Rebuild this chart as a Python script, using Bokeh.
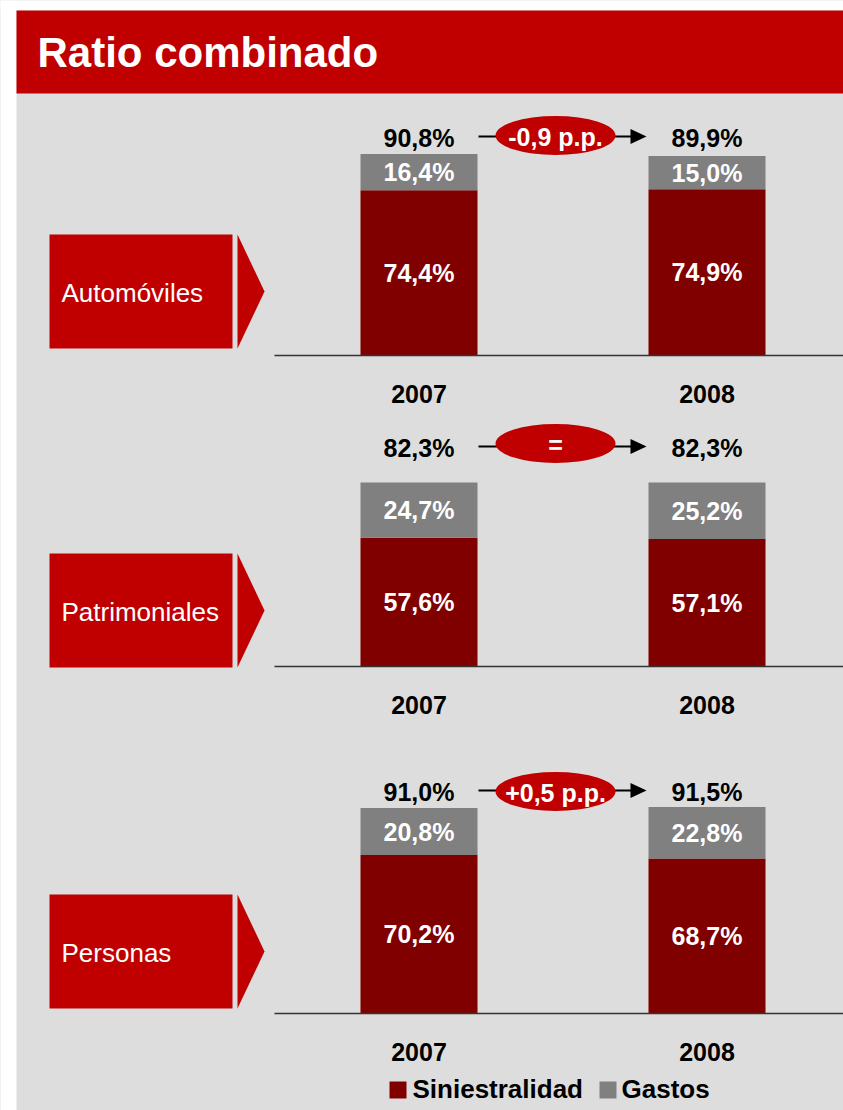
from bokeh.plotting import figure
from bokeh.models import Range1d
from bokeh.core.properties import value
from bokeh.embed import file_html
from bokeh.resources import INLINE

# ---------------- data ----------------
title = "Ratio combinado"
segments = ["Automóviles", "Patrimoniales", "Personas"]
years = ["2007", "2008"]
siniestralidad = [[74.4, 74.9], [57.6, 57.1], [70.2, 68.7]]
gastos = [[16.4, 15.0], [24.7, 25.2], [20.8, 22.8]]
totals = [[90.8, 89.9], [82.3, 82.3], [91.0, 91.5]]
changes = ["-0,9 p.p.", "=", "+0,5 p.p."]
series = ["Siniestralidad", "Gastos"]

# ---------------- style / layout ----------------
RED = "#C00000"
DARK = "#800000"
GRAY = "#808080"
BG = "#DDDDDD"
FONT = value("Liberation Sans")

W, H = 843, 1110
X0, Y0 = 0, 0
BAR_X = [418.5, 706.5]
BAR_W = 117
BASE = [355, 666, 1013]          # picture y of each panel's baseline
SCALE = [2.22, 2.235, 2.257]     # px per percentage point
BOX_CY = [291, 610, 951]
ROW_Y = [136, 446, 790]
ELL_Y = [135, 443, 791]


def fmt(v):
    return f"{v:.1f}".replace(".", ",") + "%"


p = figure(width=W, height=H, x_range=Range1d(X0, X0 + W), y_range=Range1d(Y0 + H, Y0),
           output_backend="svg", toolbar_location=None, x_axis_type=None, y_axis_type=None,
           min_border=0, outline_line_color=None, background_fill_color=BG,
           border_fill_color="white")

ranges = {}
for k, (b, s) in enumerate(zip(BASE, SCALE)):
    ranges[f"p{k}"] = Range1d(start=(b - (Y0 + H)) / s, end=(b - Y0) / s)
p.extra_y_ranges = ranges

# white margins and header
p.quad(left=[X0, X0], right=[16, X0 + W], top=[Y0, Y0], bottom=[Y0 + H, 10],
       fill_color="white", line_color=None)
p.quad(left=16, right=X0 + W, top=10, bottom=93, fill_color=RED, line_color=None)
p.text(x=[37], y=[52], text=[title], text_color="white", text_font=FONT,
       text_font_size="42px", text_font_style="bold", text_baseline="middle")

for k, seg in enumerate(segments):
    rn = f"p{k}"
    cy = BOX_CY[k]
    # label box + chevron
    p.quad(left=49, right=232, top=cy - 57, bottom=cy + 57, fill_color=RED, line_color=None)
    p.patch(x=[237, 264, 237], y=[cy - 57, cy, cy + 57], fill_color=RED, line_color=None)
    p.text(x=[61], y=[cy + 1], text=[seg], text_color="white", text_font=FONT,
           text_font_size="26px", text_baseline="middle")

    sin = siniestralidad[k]
    gas = gastos[k]
    tot = [a + g for a, g in zip(sin, gas)]
    p.vbar(x=BAR_X, width=BAR_W, bottom=0, top=sin, fill_color=DARK, line_color=None,
           y_range_name=rn)
    p.vbar(x=BAR_X, width=BAR_W, bottom=sin, top=tot, fill_color=GRAY, line_color=None,
           y_range_name=rn)
    p.text(x=BAR_X, y=[v / 2 for v in sin], text=[fmt(v) for v in sin], text_color="white",
           text_font=FONT, text_font_size="25px", text_font_style="bold",
           text_align="center", text_baseline="middle", y_range_name=rn)
    p.text(x=BAR_X, y=[a + g / 2 for a, g in zip(sin, gas)], text=[fmt(v) for v in gas],
           text_color="white", text_font=FONT, text_font_size="25px", text_font_style="bold",
           text_align="center", text_baseline="middle", y_range_name=rn)

    # baseline
    p.segment(x0=274, x1=X0 + W, y0=BASE[k], y1=BASE[k], line_color="#333333", line_width=1.5)

    # totals
    p.text(x=BAR_X, y=[ROW_Y[k] + 1] * 2, text=[fmt(v) for v in totals[k]], text_color="black",
           text_font=FONT, text_font_size="25px", text_font_style="bold",
           text_align="center", text_baseline="middle")

    # years
    p.text(x=BAR_X, y=[BASE[k] + 38] * 2, text=years, text_color="black",
           text_font=FONT, text_font_size="25px", text_font_style="bold",
           text_align="center", text_baseline="middle")

    # change arrow + ellipse
    ry = ROW_Y[k]
    p.segment(x0=478, x1=632, y0=ry, y1=ry, line_color="black", line_width=2)
    p.patch(x=[630, 646, 630], y=[ry - 7.5, ry, ry + 7.5], fill_color="black", line_color=None)
    p.ellipse(x=555, y=ELL_Y[k], width=120, height=39, width_units="screen",
              height_units="screen", fill_color=RED, line_color=None)
    p.text(x=[555], y=[ELL_Y[k] + 1], text=[changes[k]], text_color="white", text_font=FONT,
           text_font_size="25px", text_font_style="bold", text_align="center",
           text_baseline="middle")

# legend
LEG_SQ_X = [389, 599]
LEG_TX_X = [412, 621]
for i, name in enumerate(series):
    p.quad(left=LEG_SQ_X[i], right=LEG_SQ_X[i] + 17, top=1081, bottom=1098,
           fill_color=[DARK, GRAY][i], line_color=None)
    p.text(x=[LEG_TX_X[i]], y=[1088], text=[name], text_color="black", text_font=FONT,
           text_font_size="26px", text_font_style="bold", text_baseline="middle")

open("out.html", "w").write(file_html(p, INLINE))
